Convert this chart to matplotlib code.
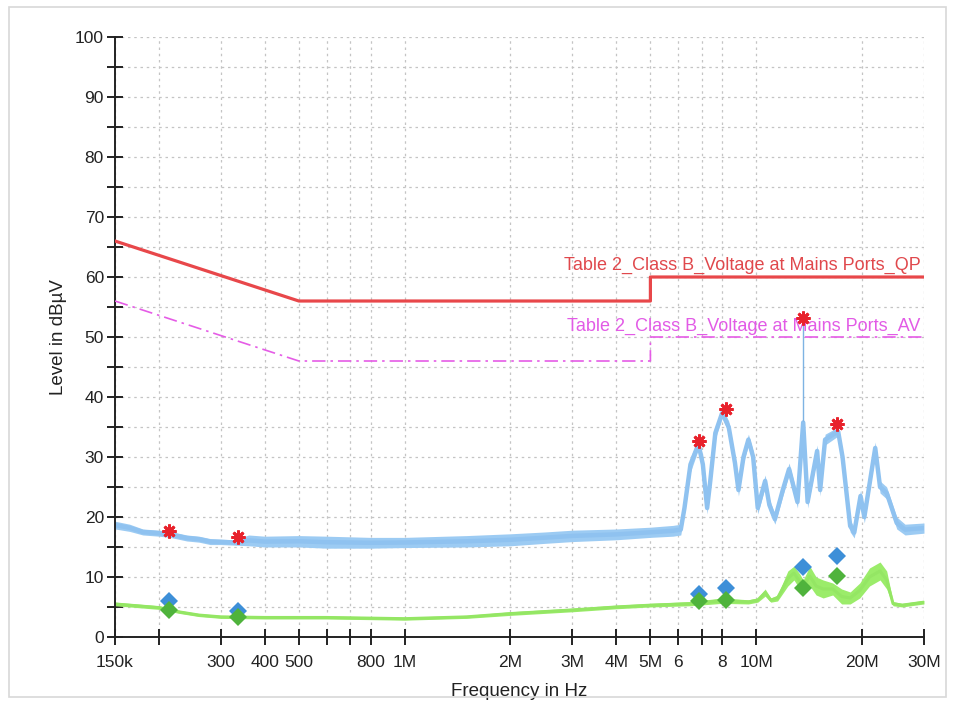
import numpy as np
import matplotlib.pyplot as plt
from matplotlib.patches import Rectangle

plt.rcParams['font.family'] = ['Liberation Sans', 'DejaVu Sans']

# Grenzwerte (EN 55032 Class B)
qp_f = [150e3, 500e3, 5e6, 5e6, 30e6]
qp_lim = [66, 56, 56, 60, 60]
av_f = [150e3, 500e3, 5e6, 5e6, 30e6]
av_lim = [56, 46, 46, 50, 50]

# Peak-Messkurve (untere / obere Huellkurve)
pk_f = [150e3, 165e3, 180e3, 200e3, 215e3, 240e3, 260e3, 280e3, 300e3, 330e3,
        360e3, 400e3, 500e3, 600e3, 800e3, 1e6, 1.5e6, 2e6, 2.5e6, 3e6,
        4e6, 5e6, 5.8e6, 6.1e6, 6.25e6, 6.5e6, 6.85e6, 7.05e6, 7.25e6, 7.4e6,
        7.65e6, 8.0e6, 8.35e6, 8.7e6, 8.9e6, 9.2e6, 9.5e6, 9.8e6, 10.1e6, 10.6e6,
        10.9e6, 11.3e6, 11.9e6, 12.4e6, 13.1e6, 13.6e6, 14.0e6, 14.9e6, 15.2e6, 15.7e6,
        17.1e6, 17.6e6, 18.5e6, 19.0e6, 19.8e6, 20.3e6, 21.8e6, 22.5e6, 23.5e6, 25.1e6,
        26.5e6, 30e6]
pk_lo = [18.0, 17.6, 17.0, 16.8, 16.6, 16.0, 15.8, 15.4, 15.4, 15.3,
         15.2, 15.0, 15.0, 14.8, 14.8, 14.9, 15.0, 15.2, 15.6, 15.9,
         16.2, 16.6, 16.8, 17.0, 20.5, 27.5, 31.3, 27.5, 20.5, 25.0,
         33.0, 36.5, 34.0, 28.0, 23.5, 29.0, 32.0, 29.0, 20.5, 25.0,
         21.0, 18.8, 23.5, 27.0, 21.5, 34.5, 21.5, 30.0, 23.5, 32.0,
         33.5, 29.0, 17.5, 16.5, 22.5, 19.0, 30.5, 24.0, 23.0, 18.0,
         17.0, 17.3]
pk_hi = [19.3, 18.8, 18.0, 17.8, 17.6, 17.0, 16.8, 16.4, 16.3, 16.2,
         17.0, 16.8, 16.9, 16.8, 16.6, 16.6, 16.9, 17.2, 17.5, 17.8,
         18.0, 18.3, 18.6, 18.8, 22.5, 30.0, 33.0, 30.0, 22.5, 27.0,
         35.0, 38.2, 36.0, 30.0, 25.5, 31.0, 33.8, 31.0, 22.5, 27.0,
         23.0, 20.5, 25.5, 29.0, 23.5, 37.0, 23.5, 32.0, 25.5, 33.8,
         35.0, 31.0, 19.5, 18.3, 24.5, 21.0, 32.5, 26.0, 25.0, 20.0,
         18.8, 19.0]

# schmale Spitze bei 13.6 MHz
spike_f = [13.6e6]
spike_lo = [36.0]
spike_hi = [53.0]

# Average-Messkurve
av_meas_f = [150e3, 200e3, 230e3, 260e3, 300e3, 400e3, 600e3, 1e6, 1.5e6, 2e6,
             3e6, 4e6, 5e6, 6.5e6, 8e6, 9.5e6, 10.1e6, 10.6e6, 11.0e6, 11.5e6,
             12.3e6, 12.8e6, 13.3e6, 13.6e6, 14.2e6, 14.8e6, 15.5e6, 16.5e6, 17.5e6, 18.5e6,
             19.7e6, 21e6, 22.5e6, 23.5e6, 24.5e6, 26e6, 30e6]
av_meas_lo = [5.2, 4.6, 3.9, 3.4, 3.1, 3.0, 3.0, 2.8, 3.1, 3.6,
              4.2, 4.7, 5.0, 5.2, 5.6, 5.5, 5.8, 6.8, 5.8, 6.0,
              8.5, 9.5, 8.0, 7.5, 8.5, 7.0, 6.5, 7.0, 5.5, 5.5,
              6.5, 8.5, 9.5, 8.0, 5.2, 5.0, 5.5]
av_meas_hi = [5.8, 5.2, 4.4, 3.9, 3.6, 3.5, 3.5, 3.3, 3.6, 4.2,
              4.8, 5.3, 5.6, 5.9, 6.5, 6.2, 6.5, 8.0, 6.5, 7.0,
              11.0, 11.8, 10.5, 9.5, 11.8, 10.0, 9.5, 9.0, 8.0, 7.5,
              9.0, 11.5, 12.5, 11.0, 5.9, 5.6, 6.1]

# Final-Messpunkte
fin_f = [213e3, 336e3, 6.86e6, 8.18e6, 13.57e6, 17.0e6]
fin_pk = [17.7, 16.7, 32.7, 38.0, 53.2, 35.5]
fin_qp = [6.0, 4.3, 7.2, 8.2, 11.7, 13.5]
fin_av = [4.5, 3.3, 6.0, 6.2, 8.2, 10.2]

tick_f = [150e3, 200e3, 300e3, 400e3, 500e3, 600e3, 700e3, 800e3, 1e6, 2e6,
          3e6, 4e6, 5e6, 6e6, 7e6, 8e6, 10e6, 20e6, 30e6]
tick_lbl = ["150k", "", "300", "400", "500", "", "", "800", "1M", "2M",
            "3M", "4M", "5M", "6", "", "8", "10M", "20M", "30M"]

fig = plt.figure(figsize=(9.56, 7.04), dpi=100)
ax = fig.add_axes([0.1203, 0.0952, 0.8462, 0.8522])

fig.patches.append(Rectangle((0.009, 0.01), 0.981, 0.98, transform=fig.transFigure,
                             fill=False, edgecolor="#d8d8d8", linewidth=1.2))

ax.set_xscale("log")
ax.set_xlim(150e3, 30e6)
ax.set_ylim(0, 100)

# Messkurven
pk_mid = (np.array(pk_lo) + np.array(pk_hi)) / 2
ax.fill_between(pk_f, pk_lo, pk_hi, color="#9ccbf3", linewidth=0, zorder=2)
ax.plot(pk_f, pk_mid, color="#8fc2f0", linewidth=3.2, zorder=2)
ax.vlines(spike_f, spike_lo, spike_hi, color="#7eb3e3", linewidth=1.0, zorder=2)

av_mid = (np.array(av_meas_lo) + np.array(av_meas_hi)) / 2
ax.fill_between(av_meas_f, av_meas_lo, av_meas_hi, color="#9bec6a", linewidth=0, zorder=2)
ax.plot(av_meas_f, av_mid, color="#94e664", linewidth=2.2, zorder=2)

# Grenzwertlinien
ax.plot(qp_f, qp_lim, color="#e8474a", linewidth=2.3, zorder=3)
ax.plot(av_f, av_lim, color="#e55ce6", linewidth=1.2, linestyle=(0, (8, 3, 1.5, 3)), zorder=3)
ax.text(29.3e6, 61.9, "Table 2_Class B_Voltage at Mains Ports_QP", color="#e0484c",
        fontsize=13, ha="right", va="center", zorder=4)
ax.text(29.3e6, 51.8, "Table 2_Class B_Voltage at Mains Ports_AV", color="#e25be6",
        fontsize=13, ha="right", va="center", zorder=4)

# Final-Punkte
ax.plot(fin_f, fin_qp, linestyle="none", marker="D", markersize=9,
        color="#3d8fd8", markeredgewidth=0, zorder=5)
ax.plot(fin_f, fin_av, linestyle="none", marker="D", markersize=9,
        color="#4fb33c", markeredgewidth=0, zorder=6)
ax.plot(fin_f, fin_pk, linestyle="none", marker=(8, 2, 0), markersize=10,
        color="#e8222c", markeredgewidth=2, zorder=7)

# Achsen
ax.set_xticks(tick_f)
ax.set_xticklabels(tick_lbl)
ax.xaxis.set_minor_locator(plt.NullLocator())
ax.set_yticks(np.arange(0, 101, 10))
ax.set_yticks(np.arange(5, 100, 10), minor=True)
ax.tick_params(axis="both", which="both", direction="inout", length=12, width=1.4,
               color="#222222", labelsize=12.5, labelcolor="#222222", pad=2)
ax.tick_params(axis="x", which="both", pad=7)

ax.grid(True, which="both", axis="y", color="#c4c4c4", linestyle=(0, (2, 3)), linewidth=0.9)
ax.grid(True, which="major", axis="x", color="#c4c4c4", linestyle=(0, (2, 3)), linewidth=0.9)
ax.set_axisbelow(True)

for s in ["top", "right"]:
    ax.spines[s].set_visible(False)
for s in ["left", "bottom"]:
    ax.spines[s].set_linewidth(1.4)
    ax.spines[s].set_color("#222222")

ax.set_xlabel("Frequency in Hz", fontsize=13.5, color="#222222", labelpad=9)
ax.set_ylabel("Level in dBµV", fontsize=13.5, color="#222222", labelpad=6)

fig.savefig("out.png", dpi=100)
